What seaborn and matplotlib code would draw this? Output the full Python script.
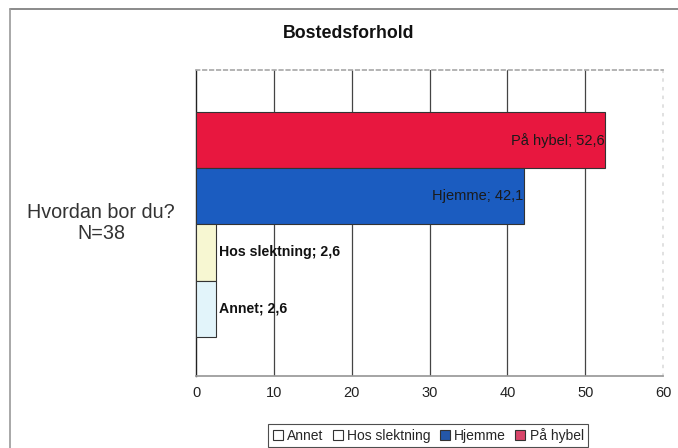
import matplotlib
matplotlib.use("Agg")
import matplotlib.pyplot as plt
from matplotlib.lines import Line2D
import seaborn as sns
import pandas as pd

# Data
categories = ["På hybel", "Hjemme", "Hos slektning", "Annet"]
values = [52.6, 42.1, 2.6, 2.6]
bar_colors = ["#e8173f", "#1b5cc0", "#f7f7d2", "#e2f4fa"]
legend_order = ["Annet", "Hos slektning", "Hjemme", "På hybel"]
legend_colors = ["#ffffff", "#ffffff", "#2457a8", "#d9456a"]
xticks = [0, 10, 20, 30, 40, 50, 60]

sns.set_theme(style="white")
plt.rcParams["font.family"] = ["Liberation Sans", "DejaVu Sans"]

df = pd.DataFrame({"kategori": categories, "prosent": values})
palette = dict(zip(categories, bar_colors))

fig = plt.figure(figsize=(6.78, 4.48), dpi=100)
ax = fig.add_axes([196 / 678, 1 - 376 / 448, (663 - 196) / 678, (376 - 70) / 448])

sns.barplot(data=df, y="kategori", x="prosent", hue="kategori", palette=palette,
            order=categories, hue_order=categories, width=1.0, legend=False,
            saturation=1, edgecolor="#333333", linewidth=0.8, ax=ax, zorder=3)

ax.set_xlim(0, 60)
ax.set_ylim(4.2, -1.25)
ax.set_xticks(xticks)
ax.set_xticklabels([str(t) for t in xticks], fontsize=10.5, color="#222222")
ax.tick_params(axis="x", length=0, pad=7)
ax.set_yticks([])
ax.set_xlabel("")
ax.set_ylabel("")

# vertical gridlines
for t in xticks[1:-1]:
    ax.axvline(t, color="#444444", linewidth=0.9, zorder=1)

ax.spines["left"].set_color("#222222")
ax.spines["left"].set_linewidth(1.0)
ax.spines["bottom"].set_color("#999999")
ax.spines["top"].set_color("#aaaaaa")
ax.spines["top"].set_linestyle((0, (2, 2)))
ax.spines["right"].set_color("#dddddd")
ax.spines["right"].set_linestyle((0, (1, 4)))

# value labels
for i, (cat, v) in enumerate(zip(categories, values)):
    txt = f"{cat}; {v:.1f}".replace(".", ",")
    if v > 10:
        ax.text(v - 0.1, i, txt, ha="right", va="center", fontsize=10.5,
                color="#1a1a1a", zorder=4)
    else:
        ax.text(v + 0.4, i, txt, ha="left", va="center", fontsize=10.2,
                fontweight="bold", color="#111111", zorder=4)

# legend
handles = [Line2D([0], [0], marker="s", linestyle="none", markersize=6.5,
                  markerfacecolor=c, markeredgecolor="#333333", markeredgewidth=0.8)
           for c in legend_colors]
leg = fig.legend(handles, legend_order, loc="upper center", ncol=4,
                 bbox_to_anchor=(428 / 678, 1 - 417 / 448), frameon=True,
                 fontsize=10, handlelength=0.8, handletextpad=0.25,
                 columnspacing=0.65, borderpad=0.3, fancybox=False)
leg.get_frame().set_edgecolor("#222222")
leg.get_frame().set_linewidth(0.8)

# title and question text
fig.text(349 / 678, 1 - 34 / 448, "Bostedsforhold", ha="center", va="center",
         fontsize=12.8, fontweight="bold", color="#111111")
fig.text(101 / 678, 1 - 223 / 448, "Hvordan bor du?\nN=38", ha="center",
         va="center", fontsize=14.2, color="#333333", linespacing=1.15)

# outer frame
fig.add_artist(Line2D([10 / 678, 1.0], [1 - 9 / 448, 1 - 9 / 448],
                      transform=fig.transFigure, color="#777777", linewidth=1.2))
fig.add_artist(Line2D([10 / 678, 10 / 678], [1 - 9 / 448, 0.0],
                      transform=fig.transFigure, color="#999999", linewidth=1.2))

fig.savefig("out.png", dpi=100)
